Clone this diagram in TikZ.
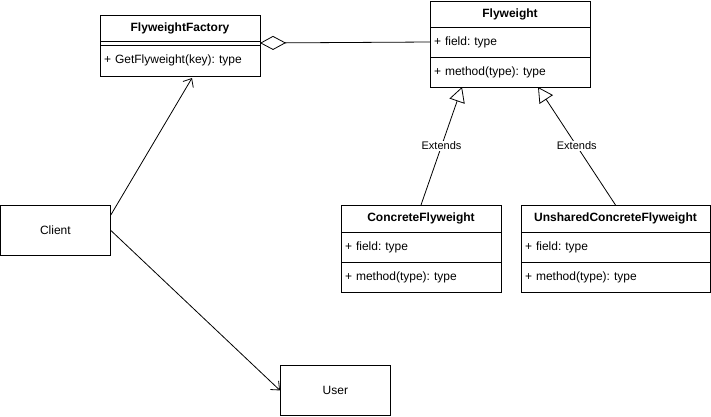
\documentclass[tikz,border=0pt]{standalone}
\usepackage{fontspec}
\setmainfont{Liberation Sans}
\usetikzlibrary{positioning, arrows.meta, calc}
\tikzstyle{classhead} = [rectangle, draw=black, line width=0.8pt, outer sep=0pt, minimum width=160pt, minimum height=26pt, inner sep=0pt, font=\bfseries, text centered]
\tikzstyle{classrow} = [rectangle, draw=black, line width=0.8pt, outer sep=0pt, minimum height=30pt, inner xsep=4pt, inner ysep=0pt, text width=152pt, align=left]
\tikzstyle{plainbox} = [rectangle, draw=black, line width=0.8pt, minimum width=110pt, minimum height=50pt, text centered]
\tikzstyle{arrow} = [line width=0.8pt, -{Straight Barb[length=7pt, width=12pt]}]
\tikzstyle{extends} = [line width=0.8pt, -{Triangle[open, length=15pt, width=16pt]}]
\tikzstyle{aggr} = [line width=0.8pt, -{Diamond[open, length=26pt, width=14pt]}]
\tikzstyle{lbl} = [fill=white, inner sep=1pt, font=\fontsize{11}{13}\selectfont]

\begin{document}
\frenchspacing
\fontsize{12}{14}\selectfont
\begin{tikzpicture}[x=1pt, y=-1pt]
\useasboundingbox (0,0) rectangle (711,416);

\node (ffhead) [classhead, anchor=north west] at (100,15) {FlyweightFactory};
\node (ffattr) [classrow, below=0pt of ffhead, minimum height=4pt] {};
\node (ffmethod) [classrow, below=0pt of ffattr, minimum height=31pt] {+ GetFlyweight(key): type};

\node (fwhead) [classhead, anchor=north west] at (430,1) {Flyweight};
\node (fwfield) [classrow, below=0pt of fwhead] {+ field: type};
\node (fwmethod) [classrow, below=0pt of fwfield] {+ method(type): type};

\node (cfhead) [classhead, anchor=north west, minimum height=27pt] at (341,205) {ConcreteFlyweight};
\node (cffield) [classrow, below=0pt of cfhead] {+ field: type};
\node (cfmethod) [classrow, below=0pt of cffield] {+ method(type): type};

\node (ufhead) [classhead, anchor=north west, minimum height=27pt, minimum width=189pt] at (521,205) {UnsharedConcreteFlyweight};
\node (uffield) [classrow, below=0pt of ufhead, text width=181pt] {+ field: type};
\node (ufmethod) [classrow, below=0pt of uffield, text width=181pt] {+ method(type): type};

\node (client) [plainbox, anchor=north west] at (0,205) {Client};
\node (user) [plainbox, anchor=north west] at (280,365) {User};

\draw [aggr] (fwfield.west) -- (ffattr.east);
\draw [extends] (cfhead.north) -- node [lbl] {Extends} ($(fwmethod.south west)!0.2!(fwmethod.south east)$);
\draw [extends] (ufhead.north) -- node [lbl] {Extends} ($(fwmethod.south west)!0.675!(fwmethod.south east)$);
\draw [arrow] ([yshift=-10pt]client.north east) -- ([xshift=12pt, yshift=-2pt]ffmethod.south);
\draw [arrow] (client.east) -- (user.west);

\end{tikzpicture}
\end{document}
